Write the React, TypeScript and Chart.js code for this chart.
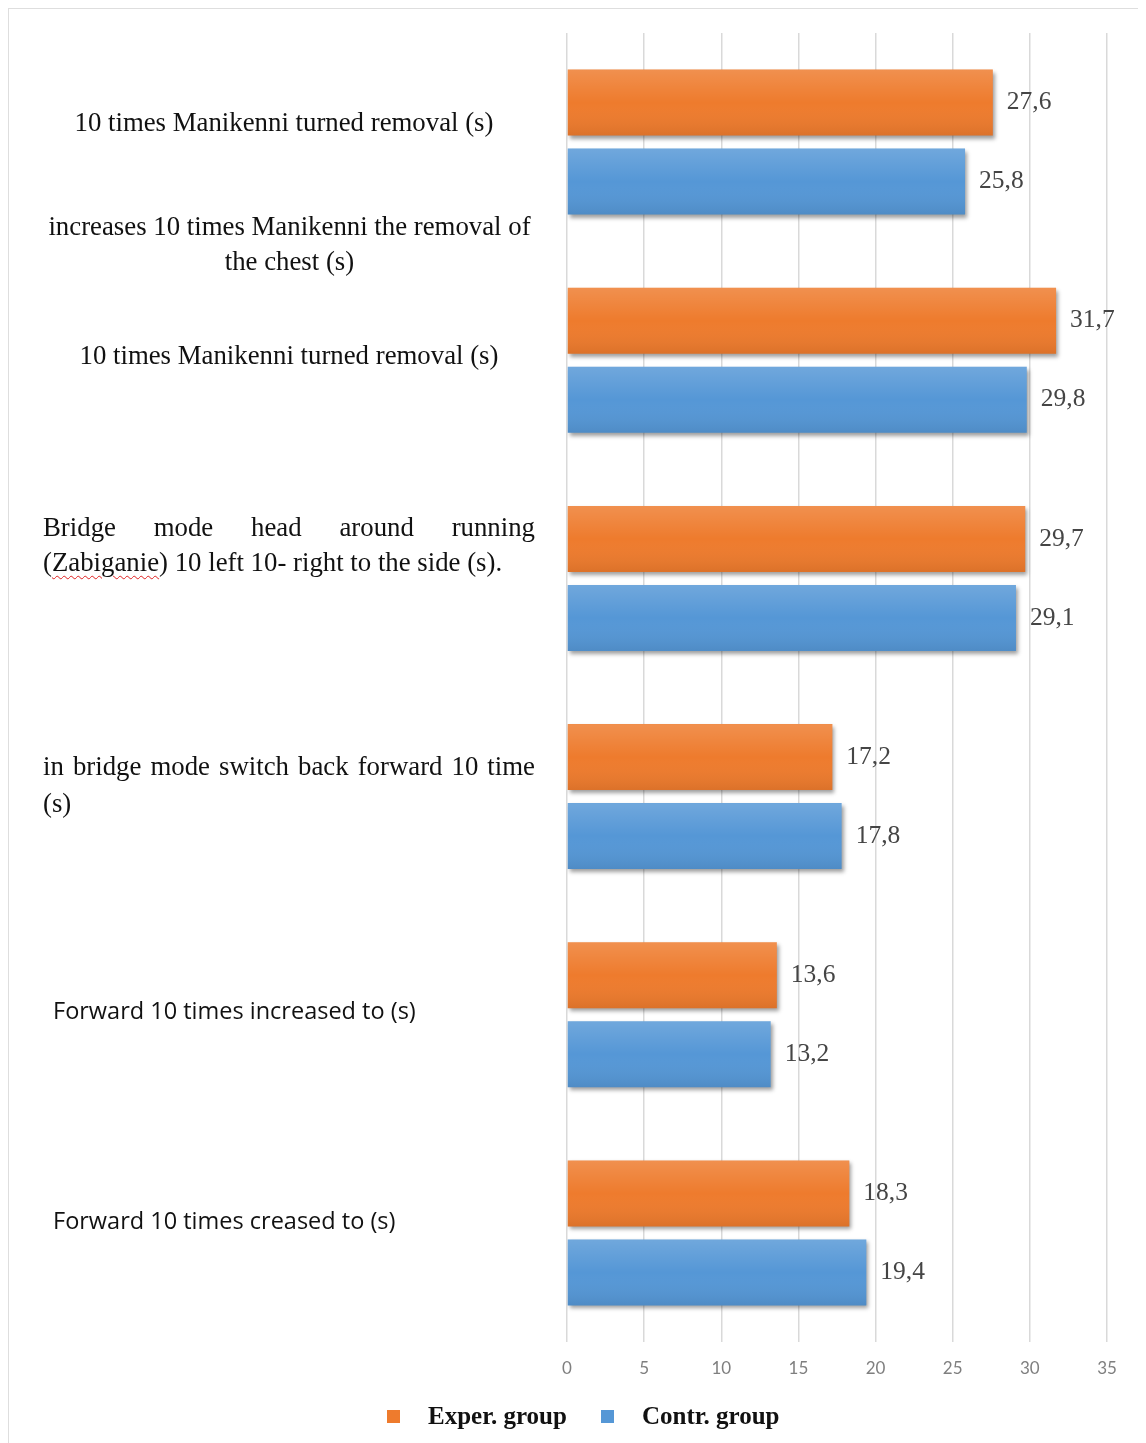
import React, { useEffect, useRef } from "react";
import { Chart, registerables } from "chart.js";

Chart.register(...registerables);

// Test groups, one per pair of bars (top to bottom)
const categories = [
  "10 times Manikenni turned removal (s)",
  "10 times Manikenni turned removal (s) ",
  "Bridge mode head around running (Zabiganie) 10 left 10- right to the side (s).",
  "in bridge mode switch back forward 10 time (s)",
  "Forward 10 times increased to (s)",
  "Forward 10 times creased to (s)",
];

const seriesNames = ["Exper. group", "Contr. group"];
const experValues = [27.6, 31.7, 29.7, 17.2, 13.6, 18.3];
const contrValues = [25.8, 29.8, 29.1, 17.8, 13.2, 19.4];

const xTicks = [0, 5, 10, 15, 20, 25, 30, 35];

const ORANGE = "#EE7B2D";
const BLUE = "#5597D6";
const SERIF = '"Liberation Serif", "Times New Roman", serif';
const SANS = '"Open Sans", "Noto Sans", sans-serif';
const TICK_SANS = 'Lato, "Noto Sans", sans-serif';

// Left-hand caption text blocks, in reading order
const captionLines: string[][] = [
  ["10 times Manikenni turned removal (s)"],
  ["increases 10 times Manikenni the removal of", "the chest (s)"],
  ["10 times Manikenni turned removal (s)"],
  ["Bridge mode head around running", "(Zabiganie) 10 left 10- right to the side (s)."],
  ["in bridge mode switch back forward 10 time", "(s)"],
  ["Forward 10 times increased to (s)"],
  ["Forward 10 times creased to (s)"],
];

type CaptionLayout = {
  left: number;
  top: number;
  width: number;
  lineHeight: number;
  align: "center" | "justify" | "left";
  font: string;
  size: number;
};

const captionLayout: CaptionLayout[] = [
  { left: 36, top: 96, width: 480, lineHeight: 36, align: "center", font: SERIF, size: 26.8 },
  { left: 36, top: 201, width: 491, lineHeight: 35, align: "center", font: SERIF, size: 26.8 },
  { left: 41, top: 329, width: 480, lineHeight: 36, align: "center", font: SERIF, size: 26.8 },
  { left: 35, top: 502, width: 492, lineHeight: 35, align: "justify", font: SERIF, size: 26.8 },
  { left: 35, top: 740, width: 492, lineHeight: 37, align: "justify", font: SERIF, size: 26.8 },
  { left: 45, top: 984, width: 480, lineHeight: 36, align: "left", font: SANS, size: 23.5 },
  { left: 45, top: 1194, width: 480, lineHeight: 36, align: "left", font: SANS, size: 23.5 },
];

const fmt = (v: number) => v.toFixed(1).replace(".", ",");

const barDecor = {
  id: "barDecor",
  beforeDatasetsDraw(chart: any) {
    const ctx = chart.ctx;
    ctx.save();
    ctx.shadowColor = "rgba(0,0,0,0.38)";
    ctx.shadowBlur = 4;
    ctx.shadowOffsetX = 2;
    ctx.shadowOffsetY = 3;
  },
  afterDatasetsDraw(chart: any) {
    const ctx = chart.ctx;
    ctx.restore();
    chart.data.datasets.forEach((ds: any, di: number) => {
      const meta = chart.getDatasetMeta(di);
      meta.data.forEach((el: any, i: number) => {
        const { x, y, base, height } = el.getProps(["x", "y", "base", "height"], true);
        const top = y - height / 2;
        const g = ctx.createLinearGradient(0, top, 0, top + height);
        g.addColorStop(0, "rgba(255,255,255,0.16)");
        g.addColorStop(0.5, "rgba(255,255,255,0)");
        g.addColorStop(1, "rgba(0,0,0,0.08)");
        ctx.save();
        ctx.fillStyle = g;
        ctx.fillRect(Math.min(base, x), top, Math.abs(x - base), height);
        ctx.restore();

        ctx.save();
        ctx.fillStyle = "#454545";
        ctx.font = `25.5px ${SERIF}`;
        ctx.textAlign = "left";
        ctx.textBaseline = "middle";
        ctx.fillText(fmt(ds.data[i]), x + 14, y);
        ctx.restore();
      });
    });
  },
};

export default function App() {
  const canvasRef = useRef<HTMLCanvasElement | null>(null);

  useEffect(() => {
    if (!canvasRef.current) return;
    const chart = new Chart(canvasRef.current, {
      type: "bar",
      data: {
        labels: categories,
        datasets: [
          { label: seriesNames[0], data: experValues, backgroundColor: ORANGE },
          { label: seriesNames[1], data: contrValues, backgroundColor: BLUE },
        ],
      },
      options: {
        indexAxis: "y",
        responsive: false,
        animation: false,
        devicePixelRatio: 1,
        categoryPercentage: 0.724,
        barPercentage: 0.835,
        layout: { padding: { left: 559, right: 39, top: 25, bottom: 0 } },
        plugins: {
          legend: { display: false },
          tooltip: { enabled: false },
        },
        scales: {
          y: { display: false },
          x: {
            min: xTicks[0],
            max: xTicks[xTicks.length - 1],
            afterBuildTicks(scale: any) {
              scale.ticks = xTicks.map((v) => ({ value: v }));
            },
            afterFit(scale: any) {
              scale.height = 101;
            },
            border: { display: false },
            grid: { color: "#d9d9d9", lineWidth: 1.5, drawTicks: false },
            ticks: {
              padding: 16,
              color: "#7f7f7f",
              font: { family: TICK_SANS, size: 17 },
            },
          },
        },
      },
      plugins: [barDecor],
    });
    return () => chart.destroy();
  }, []);

  const renderLine = (line: string) => {
    const word = "Zabiganie";
    const idx = line.indexOf(word);
    if (idx < 0) return line;
    return (
      <>
        {line.slice(0, idx)}
        <span
          style={{
            textDecorationLine: "underline",
            textDecorationStyle: "wavy",
            textDecorationColor: "#e02020",
            textDecorationThickness: "1px",
            textUnderlineOffset: "4px",
          }}
        >
          {word}
        </span>
        {line.slice(idx + word.length)}
      </>
    );
  };

  return (
    <div style={{ position: "relative", width: 1138, height: 1435, background: "#fff" }}>
      <canvas ref={canvasRef} width={1138} height={1435} style={{ position: "absolute", left: 0, top: 0 }} />
      <div
        style={{
          position: "absolute",
          left: -1,
          top: -1,
          width: 1137,
          height: 1440,
          borderTop: "2px solid #dedede",
          borderLeft: "2px solid #dedede",
          borderRight: "1px solid #eeeeee",
          pointerEvents: "none",
        }}
      />
      {captionLines.map((lines, ci) => {
        const L = captionLayout[ci];
        return (
          <div
            key={ci}
            style={{
              position: "absolute",
              left: L.left,
              top: L.top,
              width: L.width,
              fontFamily: L.font,
              fontSize: L.size,
              lineHeight: `${L.lineHeight}px`,
              color: "#111",
              whiteSpace: "nowrap",
            }}
          >
            {lines.map((line, li) => {
              const justify = L.align === "justify" && li < lines.length - 1;
              return (
                <div
                  key={li}
                  style={{
                    textAlign: justify ? "justify" : L.align === "center" ? "center" : "left",
                    textAlignLast: justify ? "justify" : undefined,
                    whiteSpace: justify ? "normal" : "nowrap",
                  }}
                >
                  {renderLine(line)}
                </div>
              );
            })}
          </div>
        );
      })}
      <div
        style={{
          position: "absolute",
          left: 379,
          top: 1392,
          height: 32,
          display: "flex",
          alignItems: "center",
          fontFamily: SERIF,
          fontWeight: "bold",
          fontSize: 25,
          color: "#111",
          whiteSpace: "nowrap",
        }}
      >
        <span style={{ width: 13, height: 13, background: ORANGE, display: "inline-block" }} />
        <span style={{ marginLeft: 28 }}>{seriesNames[0]}</span>
        <span style={{ width: 13, height: 13, background: BLUE, display: "inline-block", marginLeft: 34 }} />
        <span style={{ marginLeft: 28 }}>{seriesNames[1]}</span>
      </div>
    </div>
  );
}
